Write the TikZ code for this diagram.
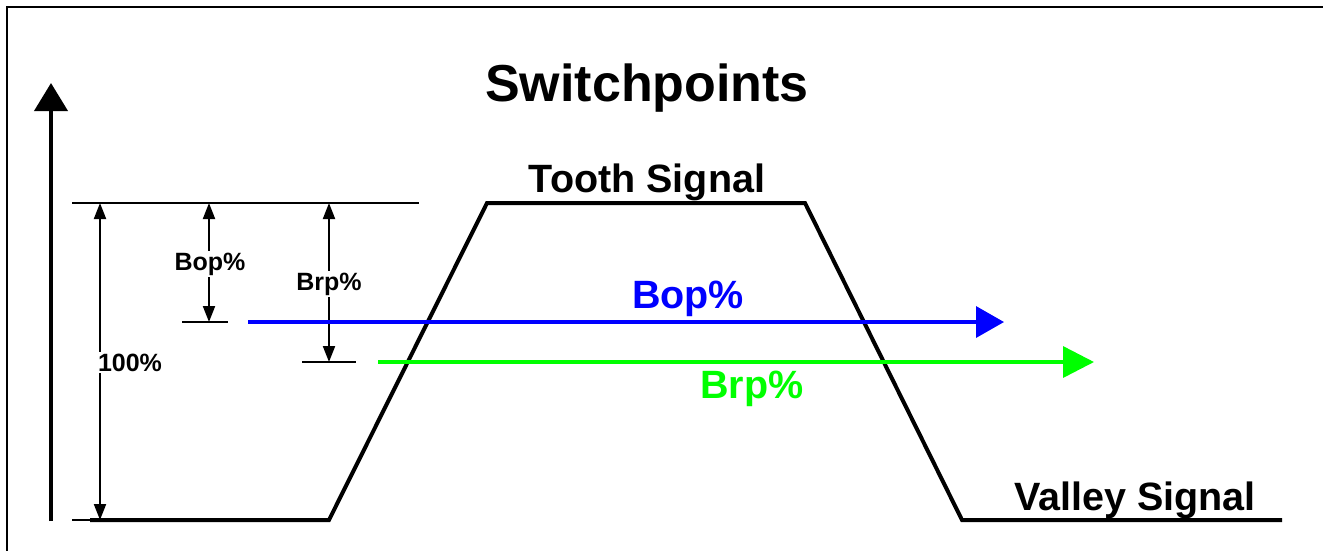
\documentclass[tikz,border=0pt]{standalone}
\usepackage{fontspec}
\setmainfont{Liberation Sans}
\usetikzlibrary{arrows.meta}
\definecolor{bopblue}{RGB}{0,0,255}
\definecolor{brpgreen}{RGB}{0,255,0}
\tikzset{
  sig/.style={line width=4pt, line join=miter},
  thinline/.style={line width=2pt},
  dim/.style={line width=2pt, {Triangle[length=16pt,width=12pt]}-{Triangle[length=16pt,width=12pt]}},
  dimlbl/.style={font=\bfseries\fontsize{25}{30}\selectfont, fill=white, inner sep=2pt, anchor=base},
  biglbl/.style={font=\bfseries\fontsize{39.5}{46}\selectfont, inner sep=0pt, anchor=base},
}
\begin{document}
\begin{tikzpicture}[x=1pt,y=-1pt]
\useasboundingbox (0,0) rectangle (1323,550);
\clip (0,0) rectangle (1323,550);
\fill[white] (0,0) rectangle (1323,550);
% frame
\draw[line width=2pt] (7,7) rectangle (1340,570);
% coordinates
\coordinate (ax0) at (51,521);
\coordinate (ax1) at (51,83);
\coordinate (topL) at (72,203);
\coordinate (topR) at (419,203);
\coordinate (botL) at (72,520);
\coordinate (s0) at (90,520);
\coordinate (s1) at (329,520);
\coordinate (s2) at (487,203);
\coordinate (s3) at (805,203);
\coordinate (s4) at (962,520);
\coordinate (s5) at (1282,520);
\coordinate (d100t) at (100,203);
\coordinate (d100b) at (100,520);
\coordinate (dbopt) at (209,203);
\coordinate (dbopb) at (209,322);
\coordinate (dbrpt) at (329,203);
\coordinate (dbrpb) at (329,362);
\coordinate (tbop0) at (182,322);
\coordinate (tbop1) at (228,322);
\coordinate (tbrp0) at (302,362);
\coordinate (tbrp1) at (356,362);
\coordinate (blue0) at (248,322);
\coordinate (blue1) at (1004,322);
\coordinate (green0) at (378,362);
\coordinate (green1) at (1094,362);
% y axis
\draw[line width=4pt, -{Triangle[length=28pt,width=33pt]}] (ax0) -- (ax1);
% reference lines
\draw[thinline] (topL) -- (topR);
\draw[thinline] (botL) -- (s0);
\draw[thinline] (tbop0) -- (tbop1);
\draw[thinline] (tbrp0) -- (tbrp1);
% signal
\draw[sig] (s0) -- (s1) -- (s2) -- (s3) -- (s4) -- (s5);
% dimension arrows
\draw[dim] (d100t) -- (d100b);
\draw[dim] (dbopt) -- (dbopb);
\draw[dim] (dbrpt) -- (dbrpb);
\node[dimlbl] (l100) at (130,371) {100\%};
\node[dimlbl] (lbop) at (210,270) {Bop\%};
\node[dimlbl] (lbrp) at (329,290) {Brp\%};
% switch lines
\draw[bopblue, line width=3.5pt, -{Triangle[length=28pt,width=31pt]}] (blue0) -- (blue1);
\draw[brpgreen, line width=3.5pt, -{Triangle[length=31pt,width=31pt]}] (green0) -- (green1);
% texts
\node[font=\bfseries\fontsize{52}{60}\selectfont, inner sep=0pt, anchor=base] (title) at (647,101) {Switchpoints};
\node[biglbl] (tooth) at (647,192) {Tooth Signal};
\node[biglbl, text=bopblue] (bop) at (688,308) {Bop\%};
\node[biglbl, text=brpgreen] (brp) at (752,398) {Brp\%};
\node[biglbl] (valley) at (1135,510) {Valley Signal};
\end{tikzpicture}
\end{document}
